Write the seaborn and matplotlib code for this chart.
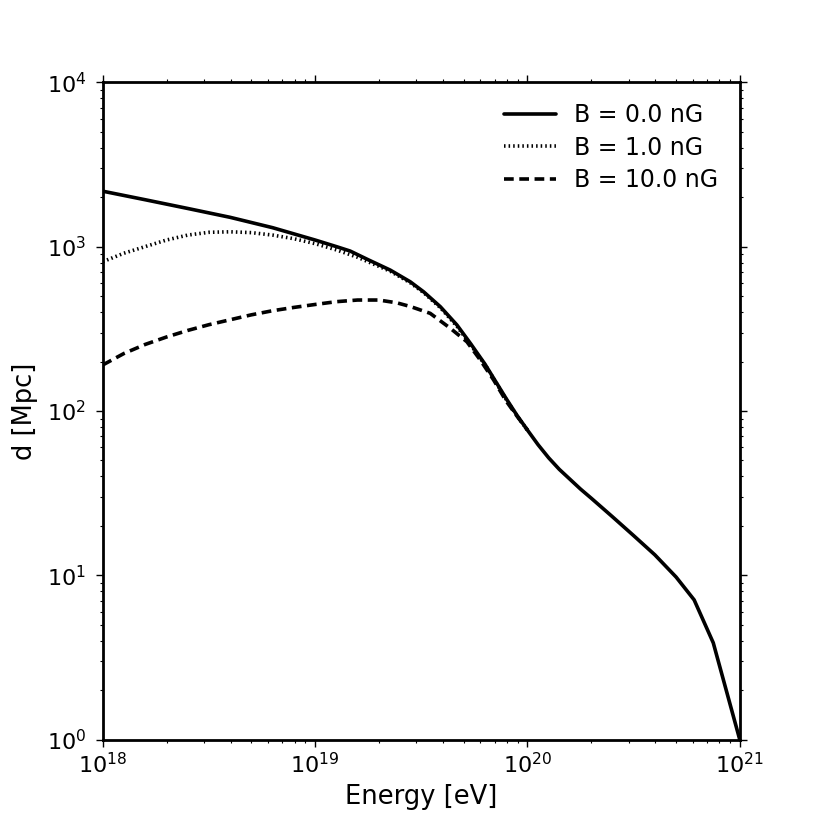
import numpy as np
import pandas as pd
import matplotlib
matplotlib.use('Agg')
import matplotlib.pyplot as plt
import seaborn as sns

# log10 energy [eV] and log10 distance [Mpc]
logE_b0 = [18.0, 18.2, 18.4, 18.6, 18.8, 19.0, 19.1, 19.165, 19.25, 19.354, 19.448,
           19.511, 19.59, 19.668, 19.731, 19.8, 19.9, 19.95, 20.0, 20.05, 20.1, 20.15,
           20.2, 20.25, 20.3, 20.4, 20.5, 20.6, 20.7, 20.785, 20.875, 21.0]
logd_b0 = [3.337, 3.285, 3.232, 3.178, 3.115, 3.04, 3.0, 2.973, 2.92, 2.857, 2.786,
           2.725, 2.634, 2.523, 2.412, 2.285, 2.075, 1.975, 1.884, 1.795, 1.715, 1.645,
           1.585, 1.525, 1.47, 1.357, 1.242, 1.125, 0.99, 0.851, 0.59, 0.0]

logE_b1 = [18.0, 18.1, 18.2, 18.3, 18.4, 18.5, 18.6, 18.7, 18.8, 18.9, 19.0,
           19.1, 19.2, 19.3, 19.354, 19.448, 19.511, 19.59, 19.668, 19.731, 19.81,
           19.9, 19.95, 20.0]
logd_b1 = [2.908, 2.96, 3.0, 3.04, 3.07, 3.087, 3.09, 3.085, 3.07, 3.048, 3.018,
           2.98, 2.935, 2.88, 2.85, 2.78, 2.72, 2.628, 2.515, 2.405, 2.262,
           2.07, 1.972, 1.884]

logE_b10 = [18.0, 18.1, 18.2, 18.3, 18.4, 18.5, 18.6, 18.7, 18.8, 18.9, 19.0,
            19.1, 19.2, 19.3, 19.385, 19.45, 19.542, 19.637, 19.715, 19.778, 19.841,
            19.9, 19.95, 20.0]
logd_b10 = [2.28, 2.35, 2.405, 2.45, 2.49, 2.525, 2.555, 2.585, 2.61, 2.63, 2.648,
            2.665, 2.675, 2.675, 2.658, 2.635, 2.594, 2.503, 2.421, 2.31, 2.188,
            2.06, 1.97, 1.884]

labels = ['B = 0.0 nG', 'B = 1.0 nG', 'B = 10.0 nG']

sns.set_style('ticks')
plt.rcParams['font.family'] = ['DejaVu Sans']
plt.rcParams['lines.scale_dashes'] = False
plt.rcParams['text.color'] = 'black'
plt.rcParams['axes.labelcolor'] = 'black'
plt.rcParams['xtick.color'] = 'black'
plt.rcParams['ytick.color'] = 'black'
plt.rcParams['axes.edgecolor'] = 'black'

fig, ax = plt.subplots(figsize=(8.22, 8.22), dpi=100)
fig.subplots_adjust(left=0.125, right=0.9, bottom=0.1, top=0.9)

series = [
    (logE_b0, logd_b0, labels[0], None),
    (logE_b1, logd_b1, labels[1], (0, (1.1, 2.2))),
    (logE_b10, logd_b10, labels[2], (0, (7, 4))),
]
for lx, ly, lab, ls in series:
    df = pd.DataFrame({'E': 10 ** np.array(lx), 'd': 10 ** np.array(ly)})
    kw = {} if ls is None else {'linestyle': ls}
    sns.lineplot(data=df, x='E', y='d', ax=ax, color='black', linewidth=2.6,
                 label=lab, sort=False, **kw)
    ax.lines[-1].set_dash_capstyle('butt')

ax.set_xscale('log')
ax.set_yscale('log')
ax.set_xlim(1e18, 1e21)
ax.set_ylim(1e0, 1e4)
ax.set_xlabel('Energy [eV]', fontsize=18.5, labelpad=5)
ax.set_ylabel('d [Mpc]', fontsize=18.5, labelpad=6)

for s in ax.spines.values():
    s.set_visible(True)
    s.set_linewidth(2.0)
ax.tick_params(which='both', direction='out', top=True, right=True, labelsize=16)
ax.tick_params(which='major', length=5, width=1)
ax.tick_params(which='minor', length=2.3, width=0.8)
ax.tick_params(axis='y', which='major', pad=7)
ax.tick_params(axis='x', which='major', pad=4)

ax.legend(loc='upper right', frameon=False, fontsize=17, handlelength=2.2,
          labelspacing=0.35)

plt.savefig('out.png', dpi=100)
